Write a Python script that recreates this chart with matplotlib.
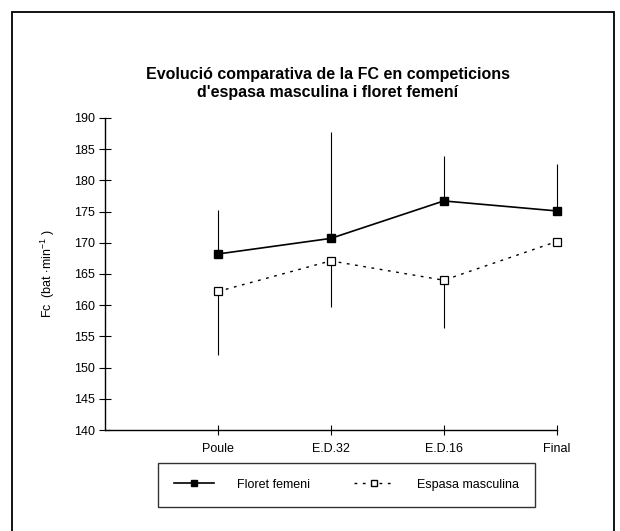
import matplotlib.pyplot as plt
from matplotlib.patches import Rectangle
from matplotlib.lines import Line2D

plt.rcParams['font.family'] = ['Liberation Sans', 'DejaVu Sans']
plt.rcParams['mathtext.fontset'] = 'custom'
plt.rcParams['mathtext.rm'] = 'Liberation Sans'

categories = ['Poule', 'E.D.32', 'E.D.16', 'Final']
floret = [168.2, 170.7, 176.7, 175.1]
floret_sd = [7.0, 17.1, 7.2, 7.5]
espasa = [162.2, 167.1, 164.0, 170.2]
espasa_sd = [10.2, 7.4, 7.7, 0.0]
yticks = [140, 145, 150, 155, 160, 165, 170, 175, 180, 185, 190]

x = list(range(1, len(categories) + 1))

fig = plt.figure(figsize=(6.2, 5.31), dpi=100)
ax = fig.add_axes([0.169, 0.190, 0.729, 0.588])

# outer frame
fig.patches.append(Rectangle((12 / 620, -0.02), 602 / 620, 1.0 - 12 / 531 + 0.02,
                             transform=fig.transFigure, fill=False,
                             edgecolor='black', linewidth=1.3))

# error bars: floret upwards, espasa downwards
eb1 = ax.errorbar(x, floret, yerr=[[0] * 4, floret_sd], fmt='none',
                  ecolor='black', elinewidth=0.8, capsize=0)
eb2 = ax.errorbar(x, espasa, yerr=[espasa_sd, [0] * 4], fmt='none',
                  ecolor='black', elinewidth=0.8, capsize=0)
for eb in (eb1, eb2):
    for c in eb.lines[2]:
        c.set_clip_on(False)

ax.plot(x, floret, color='black', linewidth=1.2, marker='s',
        markersize=5.5, markerfacecolor='black', markeredgecolor='black',
        zorder=3, clip_on=False)
ax.plot(x, espasa, color='black', linewidth=1.0, linestyle=(0, (2, 4)),
        marker='s', markersize=5.5, markerfacecolor='white',
        markeredgecolor='black', markeredgewidth=0.9, zorder=3, clip_on=False)

ax.set_xlim(0, 4)
ax.set_ylim(140, 190)
ax.set_xticks(x)
ax.set_xticklabels(categories, fontsize=9)
ax.set_yticks(yticks)
ax.tick_params(axis='y', direction='inout', length=8, width=0.8,
               labelsize=9, pad=3)
ax.tick_params(axis='x', direction='inout', length=7, width=0.8, pad=6)

for s in ['top', 'right']:
    ax.spines[s].set_visible(False)
for s in ['left', 'bottom']:
    ax.spines[s].set_linewidth(1.0)

ax.set_ylabel(r'Fc  (bat $\cdot$min$^{-1}$ )', fontsize=9, labelpad=12)

fig.text(0.529, 0.843, 'Evolució comparativa de la FC en competicions\n'
         "d'espasa masculina i floret femení", ha='center', va='center',
         fontsize=11.5, fontweight='bold', linespacing=1.25)

handles = [
    Line2D([], [], color='black', linewidth=1.2, marker='s', markersize=5,
           markerfacecolor='black'),
    Line2D([], [], color='black', linewidth=1.0, linestyle=(0, (2, 4)),
           marker='s', markersize=5, markerfacecolor='white'),
]
leg = fig.legend(handles, ['Floret femeni', 'Espasa masculina'], ncol=2,
                 loc='lower left',
                 bbox_to_anchor=(158 / 620, 1 - 507 / 531, 377 / 620, 45 / 531),
                 mode='expand', fancybox=False, frameon=True, fontsize=9,
                 handlelength=3.2, handletextpad=1.8, borderpad=1.3,
                 borderaxespad=0, columnspacing=3)
leg.get_frame().set_edgecolor('black')
leg.get_frame().set_linewidth(1.0)

fig.savefig('out.png', dpi=100)
